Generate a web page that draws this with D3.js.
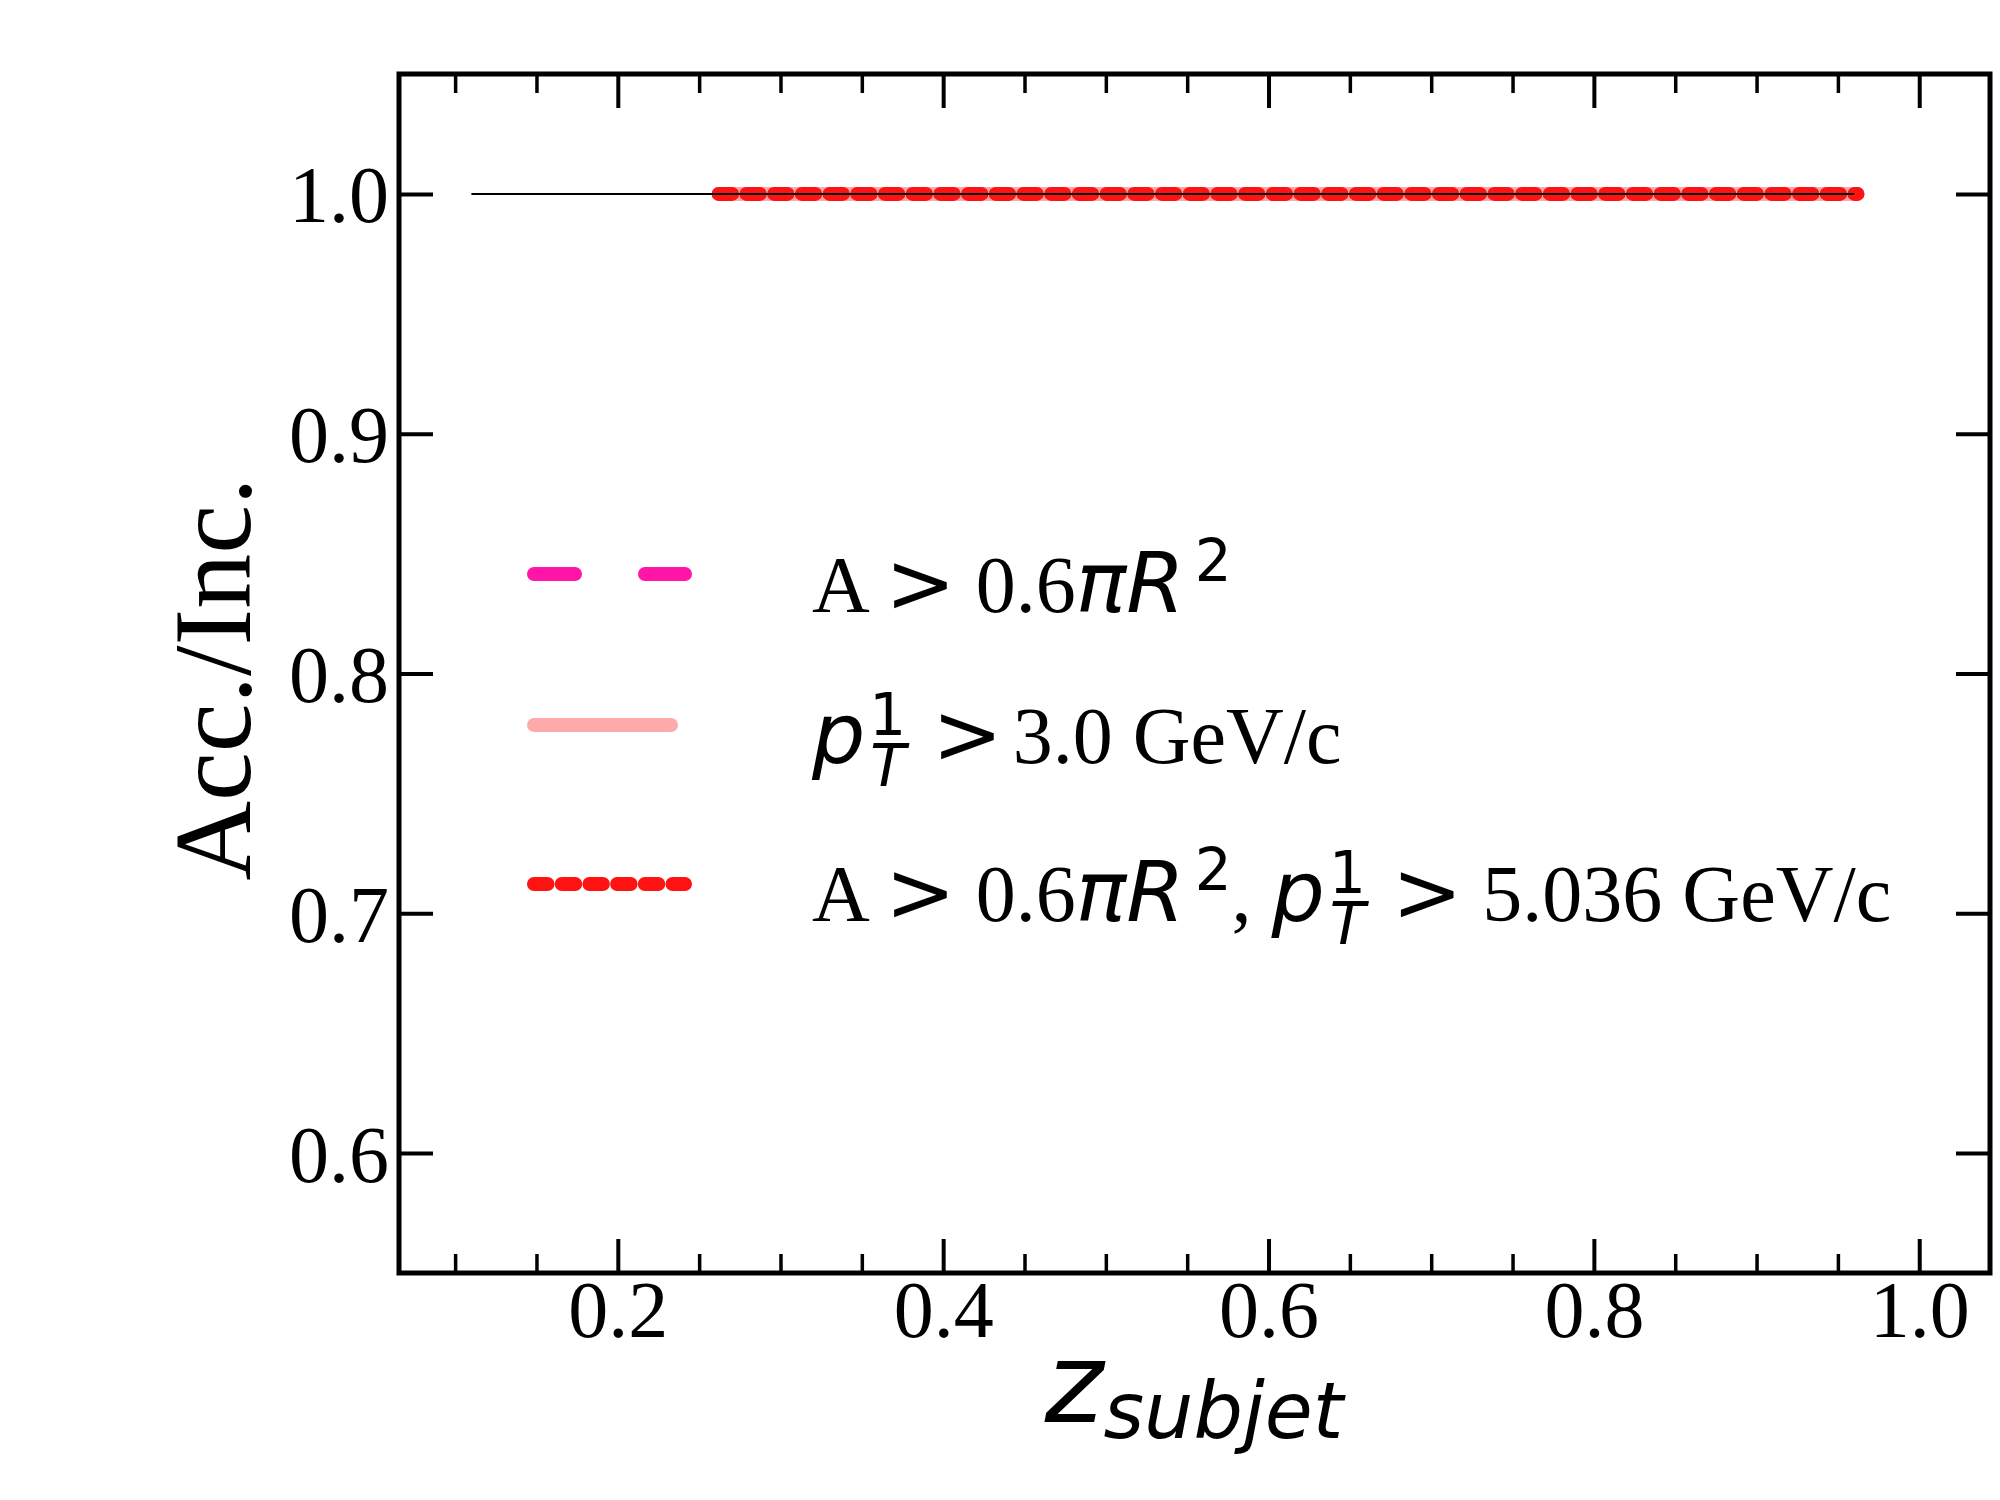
<!DOCTYPE html>
<html>
<head>
    <script src="https://cdn.jsdelivr.net/npm/d3@7"></script>
    <style>
        body { margin: 0; background: white; }
        svg { display: block; }
    </style>
</head>
<body>
<svg id="chart" width="2000" height="1500"></svg>
<script>
    // bin centres and ratios
    const zInclusive = [0.11, 0.16, 0.21, 0.26, 0.31, 0.36, 0.41, 0.46, 0.51, 0.56, 0.61, 0.66, 0.71, 0.76, 0.81, 0.86, 0.91, 0.96];
    const ratioInclusive = [1.0, 1.0, 1.0, 1.0, 1.0, 1.0, 1.0, 1.0, 1.0, 1.0, 1.0, 1.0, 1.0, 1.0, 1.0, 1.0, 1.0, 1.0];
    const zCut = [0.262, 0.312, 0.362, 0.412, 0.462, 0.512, 0.562, 0.612, 0.662, 0.712, 0.762, 0.812, 0.862, 0.912, 0.962];
    const ratioArea = [1.0, 1.0, 1.0, 1.0, 1.0, 1.0, 1.0, 1.0, 1.0, 1.0, 1.0, 1.0, 1.0, 1.0, 1.0];
    const ratioPt = [1.0, 1.0, 1.0, 1.0, 1.0, 1.0, 1.0, 1.0, 1.0, 1.0, 1.0, 1.0, 1.0, 1.0, 1.0];
    const ratioBoth = [1.0, 1.0, 1.0, 1.0, 1.0, 1.0, 1.0, 1.0, 1.0, 1.0, 1.0, 1.0, 1.0, 1.0, 1.0];

    const xMajor = [0.2, 0.4, 0.6, 0.8, 1.0];
    const xMinor = [0.1, 0.15, 0.25, 0.3, 0.35, 0.45, 0.5, 0.55, 0.65, 0.7, 0.75, 0.85, 0.9, 0.95];
    const yMajor = [0.6, 0.7, 0.8, 0.9, 1.0];

    const serif = "'Liberation Serif', 'Times New Roman', serif";
    const sans = "'DejaVu Sans', sans-serif";

    const margin = {left: 399, right: 1990, top: 74, bottom: 1273};
    const svg = d3.select("#chart");

    const x = d3.scaleLinear().domain([0.0655, 1.0435]).range([margin.left, margin.right]);
    const y = d3.scaleLinear().domain([0.55, 1.05]).range([margin.bottom, margin.top]);

    // series styles
    const series = [
        {ys: ratioArea, color: "#ff16a8", dash: "41,70"},
        {ys: ratioPt, color: "#ffaaaa", dash: null},
        {ys: ratioBoth, color: "#ff1212", dash: "13.5,14.2"}
    ];

    const line = d3.line().x(d => x(d[0])).y(d => y(d[1]));

    series.forEach(s => {
        svg.append("path")
            .attr("d", line(zCut.map((z, i) => [z, s.ys[i]])))
            .attr("fill", "none")
            .attr("stroke", s.color)
            .attr("stroke-width", 14)
            .attr("stroke-linecap", "round")
            .attr("stroke-dasharray", s.dash);
    });

    svg.append("path")
        .attr("d", line(zInclusive.map((z, i) => [z, ratioInclusive[i]])))
        .attr("fill", "none")
        .attr("stroke", "black")
        .attr("stroke-width", 2);

    // axes, ticks pointing inward on all sides
    function styleAxis(g, width) {
        g.select(".domain").remove();
        g.selectAll(".tick line").attr("stroke", "black").attr("stroke-width", width);
    }

    svg.append("g").attr("transform", `translate(0,${margin.bottom})`)
        .call(d3.axisBottom(x).tickValues(xMajor).tickSize(-34).tickFormat(d3.format(".1f")))
        .call(g => styleAxis(g, 4))
        .call(g => g.selectAll(".tick text")
            .attr("y", 64).attr("dy", null)
            .attr("font-family", serif).attr("font-size", 80).attr("fill", "black"));
    svg.append("g").attr("transform", `translate(0,${margin.bottom})`)
        .call(d3.axisBottom(x).tickValues(xMinor).tickSize(-19).tickFormat(""))
        .call(g => styleAxis(g, 3.5));
    svg.append("g").attr("transform", `translate(0,${margin.top})`)
        .call(d3.axisTop(x).tickValues(xMajor).tickSize(-34).tickFormat(""))
        .call(g => styleAxis(g, 4));
    svg.append("g").attr("transform", `translate(0,${margin.top})`)
        .call(d3.axisTop(x).tickValues(xMinor).tickSize(-19).tickFormat(""))
        .call(g => styleAxis(g, 3.5));

    svg.append("g").attr("transform", `translate(${margin.left},0)`)
        .call(d3.axisLeft(y).tickValues(yMajor).tickSize(-34).tickFormat(d3.format(".1f")))
        .call(g => styleAxis(g, 4))
        .call(g => g.selectAll(".tick text")
            .attr("x", -10).attr("dy", 28)
            .attr("font-family", serif).attr("font-size", 80).attr("fill", "black"));
    svg.append("g").attr("transform", `translate(${margin.right},0)`)
        .call(d3.axisRight(y).tickValues(yMajor).tickSize(-34).tickFormat(""))
        .call(g => styleAxis(g, 4));

    svg.append("rect")
        .attr("x", margin.left).attr("y", margin.top)
        .attr("width", margin.right - margin.left).attr("height", margin.bottom - margin.top)
        .attr("fill", "none").attr("stroke", "black").attr("stroke-width", 5);

    // axis titles
    svg.append("text")
        .attr("transform", `translate(250,679) rotate(-90)`)
        .attr("text-anchor", "middle")
        .attr("font-family", serif).attr("font-size", 110)
        .text("Acc./Inc.");

    const xl = svg.append("text")
        .attr("x", 1194).attr("y", 1422)
        .attr("text-anchor", "middle")
        .attr("font-family", sans).attr("font-style", "italic");
    xl.append("tspan").attr("font-size", 112).text("z");
    xl.append("tspan").attr("font-size", 78).attr("dy", 16).text("subjet");

    // legend: rich text pieces with baseline shifts
    function rich(xPos, yPos, parts) {
        const t = svg.append("text").attr("x", xPos).attr("y", yPos).attr("fill", "black");
        let shift = 0;
        parts.forEach(p => {
            const ts = t.append("tspan")
                .attr("font-family", p.f === "s" ? sans : serif)
                .attr("font-style", p.it ? "italic" : "normal")
                .attr("font-size", p.size || (p.f === "s" ? 84 : 80))
                .attr("dy", (p.shift || 0) - shift)
                .text(p.t);
            if (p.dx) ts.attr("dx", p.dx);
            shift = p.shift || 0;
        });
        return t;
    }

    const legendRows = [
        {y: 574, base: 612, s: series[0], len: [534, 685],
         parts: [{t: "A "}, {t: ">", f: "s"}, {t: " 0.6"}, {t: "\u03c0R", f: "s", it: true},
                 {t: "2", f: "s", size: 58, shift: -31, dx: 10}]},
        {y: 725, base: 763, s: series[1], len: [534, 671],
         parts: [{t: "p", f: "s", it: true}, {t: "1", f: "s", size: 58, shift: -28, dx: 4},
                 {t: "T", f: "s", it: true, size: 58, shift: 23, dx: -36},
                 {t: " >", f: "s"}, {t: " 3.0 GeV/c", dx: -10}]},
        {y: 884, base: 921, s: series[2], len: [534, 685],
         parts: [{t: "A "}, {t: ">", f: "s"}, {t: " 0.6"}, {t: "\u03c0R", f: "s", it: true},
                 {t: "2", f: "s", size: 58, shift: -31, dx: 10}, {t: ", "},
                 {t: "p", f: "s", it: true}, {t: "1", f: "s", size: 58, shift: -28, dx: 4},
                 {t: "T", f: "s", it: true, size: 58, shift: 23, dx: -36},
                 {t: " >", f: "s"}, {t: " 5.036 GeV/c"}]}
    ];

    legendRows.forEach(r => {
        svg.append("line")
            .attr("x1", r.len[0]).attr("x2", r.len[1])
            .attr("y1", r.y).attr("y2", r.y)
            .attr("stroke", r.s.color).attr("stroke-width", 14)
            .attr("stroke-linecap", "round")
            .attr("stroke-dasharray", r.s.dash);
        rich(812, r.base, r.parts);
    });
</script>
</body>
</html>
